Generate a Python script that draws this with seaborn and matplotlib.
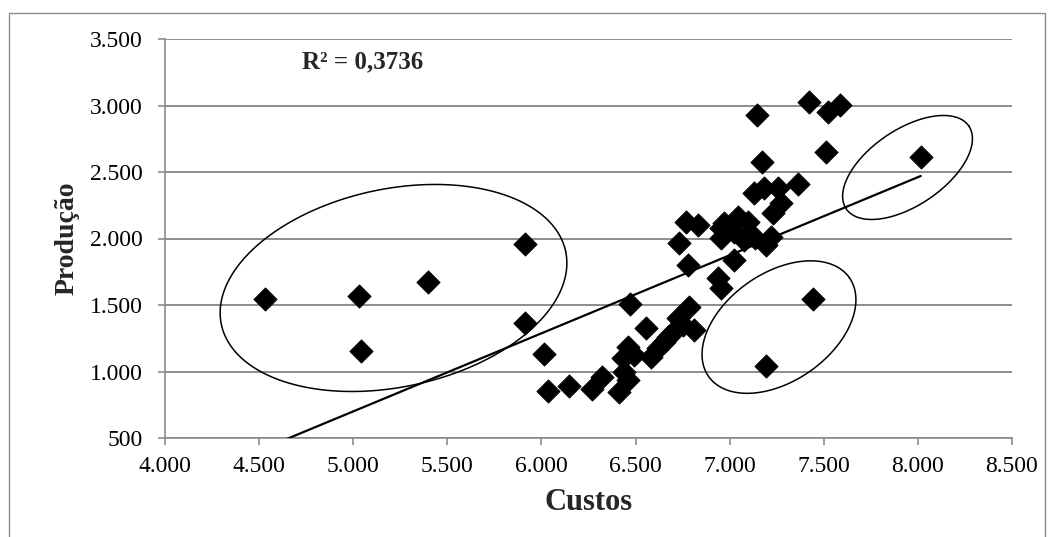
""" Custos x Produção scatter with linear trend and highlighted groups. """
import numpy as np
import pandas as pd
import seaborn as sns
import matplotlib.pyplot as plt
from matplotlib.ticker import FuncFormatter, MultipleLocator
from matplotlib.patches import Rectangle

# points
custos = [4530, 5030, 5040, 5395, 5912, 5912, 6015, 6035,
          6146, 6270, 6322, 6412, 6440, 6460, 6433, 6460, 6492, 6471,
          6556, 6582, 6620, 6650, 6673, 6700, 6726, 6750, 6785, 6811,
          6780, 6939, 6955, 6731, 6769, 6833, 6955, 6955, 6971, 7025,
          7046, 7099, 7078, 7136, 7222, 7195, 7025, 7131, 7184, 7259,
          7275, 7232, 7365, 7147, 7174, 7424, 7525, 7584, 7510, 7445,
          7195, 8015]
producao = [1545, 1568, 1155, 1673, 1960, 1368, 1132, 850,
            891, 870, 960, 846, 1000, 936, 1101, 1184, 1124, 1508,
            1327, 1109, 1177, 1225, 1259, 1300, 1402, 1350, 1485, 1312,
            1801, 1703, 1625, 1966, 2124, 2102, 2079, 2004, 2117, 2049,
            2162, 2124, 1989, 2004, 2011, 1951, 1838, 2342, 2380, 2380,
            2267, 2192, 2410, 2929, 2575, 3026, 2951, 3004, 2650, 1545,
            1041, 2613]

# linear trendline (Excel), end points
trend_x = [4530, 8015]
trend_y = [424, 2470]
r2_text = "R² = 0,3736"

# hand-drawn ellipses: centre (data), semi-axes (px), tilt (deg)
ell_centres = [(5214, 1628), (7262, 1334), (7945, 2534)]
ell_axes = [(176, 99), (86, 54), (74, 38)]
ell_angles = [12, 35, 34]

df = pd.DataFrame({"Custos": custos, "Produção": producao})

sns.set_theme(style="white")
plt.rcParams['font.family'] = ['Liberation Serif', 'DejaVu Serif']

fig = plt.figure(figsize=(10.54, 5.37), dpi=100)
ax = fig.add_axes([165/1054, 1 - 438/537, 847/1054, 399/537])

grey = "#8c8c8c"
ax.set_xlim(4000, 8500)
ax.set_ylim(500, 3500)
ax.yaxis.set_major_locator(MultipleLocator(500))
ax.xaxis.set_major_locator(MultipleLocator(500))
ax.yaxis.grid(True, color=grey, linewidth=1.4)
ax.set_axisbelow(True)

fmt = FuncFormatter(lambda v, p: f"{v:,.0f}".replace(",", "."))
ax.xaxis.set_major_formatter(fmt)
ax.yaxis.set_major_formatter(fmt)

sns.lineplot(x=trend_x, y=trend_y, ax=ax, color="black", linewidth=1.6, zorder=3)
sns.scatterplot(data=df, x="Custos", y="Produção", ax=ax, marker="D", s=140,
                color="black", edgecolor="black", linewidth=0.6, zorder=4)

for sp in ["top", "right"]:
    ax.spines[sp].set_visible(False)
for sp in ["left", "bottom"]:
    ax.spines[sp].set_color(grey)
    ax.spines[sp].set_linewidth(1.2)

ax.tick_params(axis="both", direction="out", length=5, width=1.2, color=grey,
               labelsize=17, labelcolor="black")
ax.tick_params(axis="y", pad=11, left=True)
ax.tick_params(axis="x", pad=8, bottom=True)

ax.set_xlabel("Custos", fontsize=22, fontweight="bold", va="center")
ax.set_ylabel("Produção", fontsize=20, fontweight="bold", va="center")
ax.xaxis.set_label_coords(0.5, (438 - 503) / 399)
ax.yaxis.set_label_coords((67 - 165) / 847, 0.5)

ax.text(4729, 3327, r2_text, fontsize=18, fontweight="bold", va="center", ha="left")

# ellipses built in pixel space so the tilt is not skewed by the axis scales
t = np.linspace(0, 2 * np.pi, 300)
to_disp = ax.transData
to_data = ax.transData.inverted()
for (cx, cy), (a, b), ang in zip(ell_centres, ell_axes, ell_angles):
    px, py = to_disp.transform((cx, cy))
    th = np.deg2rad(ang)
    ex = px + a * np.cos(t) * np.cos(th) - b * np.sin(t) * np.sin(th)
    ey = py + a * np.cos(t) * np.sin(th) + b * np.sin(t) * np.cos(th)
    pts = to_data.transform(np.column_stack([ex, ey]))
    ax.plot(pts[:, 0], pts[:, 1], color="black", linewidth=1.1, zorder=5)

# outer chart frame
fig.patches.append(Rectangle((9/1054, -0.05), (1045 - 9)/1054, 1.05 - 13/537,
                             transform=fig.transFigure, fill=False,
                             edgecolor=grey, linewidth=1.0))

fig.savefig("out.png", dpi=100)
